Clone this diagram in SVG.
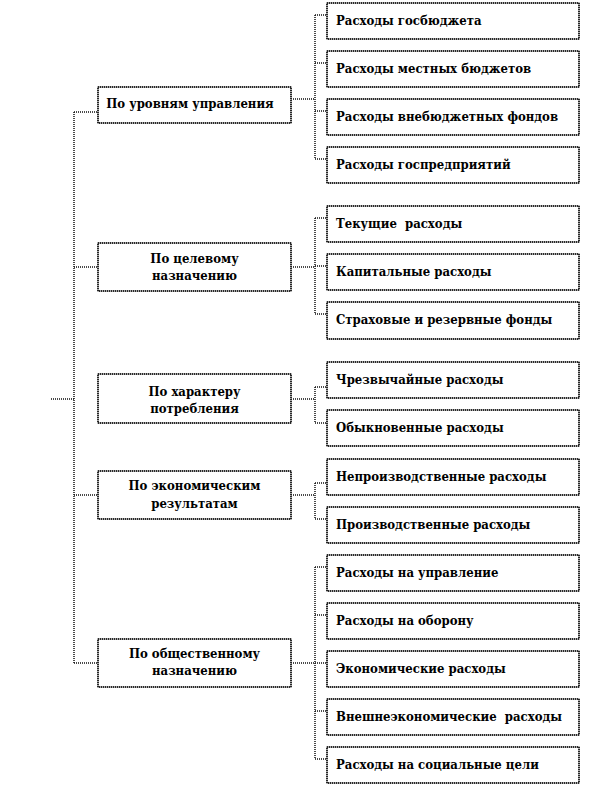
<svg xmlns="http://www.w3.org/2000/svg" width="594" height="786" viewBox="0 0 594 786">
<style>
.bg{fill:#fff;stroke:#8a8a8a;stroke-width:1.5}
.bd{fill:none;stroke:#000;stroke-width:1.5;stroke-dasharray:1 1}
.ln{fill:none;stroke:#111;stroke-width:1.5;stroke-dasharray:1 1}
.t{font-family:'DejaVu Serif Condensed','DejaVu Serif',serif;font-stretch:condensed;font-weight:700;font-size:13px;fill:#000}
.c{text-anchor:middle}
</style>
<rect width="594" height="786" fill="#fff"/>
<g id="connectors">
<path class="ln" d="M74,112V663M51,399H74M74,112H98M74,267H98M74,495H98M74,663H98"/>
<path class="ln" d="M291,99H315M315,15V159M315,15H327M315,63H327M315,111H327M315,159H327"/>
<path class="ln" d="M291,267H315M315,218V314M315,218H327M315,266H327M315,314H327"/>
<path class="ln" d="M291,399H315M315,387V423M315,387H327M315,423H327"/>
<path class="ln" d="M291,495H315M315,483V519M315,483H327M315,519H327"/>
<path class="ln" d="M291,663H315M315,567V759M315,567H327M315,615H327M315,663H327M315,711H327M315,759H327"/>
</g>
<g class="t">
<g id="c1"><rect class="bg" x="98" y="87" width="193" height="36"/><rect class="bd" x="98" y="87" width="193" height="36"/><text class="c" x="190" y="108">По уровням управления</text></g>
<g id="c2"><rect class="bg" x="98" y="243" width="193" height="48"/><rect class="bd" x="98" y="243" width="193" height="48"/><text class="c" x="194.5" y="263">По целевому</text><text class="c" x="194.5" y="280">назначению</text></g>
<g id="c3"><rect class="bg" x="98" y="374" width="193" height="49"/><rect class="bd" x="98" y="374" width="193" height="49"/><text class="c" x="194.5" y="396">По характеру</text><text class="c" x="194.5" y="413">потребления</text></g>
<g id="c4"><rect class="bg" x="98" y="471" width="193" height="48"/><rect class="bd" x="98" y="471" width="193" height="48"/><text class="c" x="194.5" y="490">По экономическим</text><text class="c" x="194.5" y="508">результатам</text></g>
<g id="c5"><rect class="bg" x="98" y="639" width="193" height="48"/><rect class="bd" x="98" y="639" width="193" height="48"/><text class="c" x="194.5" y="658">По общественному</text><text class="c" x="194.5" y="675">назначению</text></g>
<g id="r1"><rect class="bg" x="327" y="3" width="252" height="36"/><rect class="bd" x="327" y="3" width="252" height="36"/><text x="336" y="25">Расходы госбюджета</text></g>
<g id="r2"><rect class="bg" x="327" y="51" width="252" height="36"/><rect class="bd" x="327" y="51" width="252" height="36"/><text x="336" y="73">Расходы местных бюджетов</text></g>
<g id="r3"><rect class="bg" x="327" y="99" width="252" height="36"/><rect class="bd" x="327" y="99" width="252" height="36"/><text x="336" y="121">Расходы внебюджетных фондов</text></g>
<g id="r4"><rect class="bg" x="327" y="147" width="252" height="36"/><rect class="bd" x="327" y="147" width="252" height="36"/><text x="336" y="169">Расходы госпредприятий</text></g>
<g id="r5"><rect class="bg" x="327" y="206" width="252" height="36"/><rect class="bd" x="327" y="206" width="252" height="36"/><text x="336" y="228" xml:space="preserve">Текущие  расходы</text></g>
<g id="r6"><rect class="bg" x="327" y="254" width="252" height="36"/><rect class="bd" x="327" y="254" width="252" height="36"/><text x="336" y="276">Капитальные расходы</text></g>
<g id="r7"><rect class="bg" x="327" y="302" width="252" height="37"/><rect class="bd" x="327" y="302" width="252" height="37"/><text x="336" y="324">Страховые и резервные фонды</text></g>
<g id="r8"><rect class="bg" x="327" y="362" width="252" height="36"/><rect class="bd" x="327" y="362" width="252" height="36"/><text x="336" y="384">Чрезвычайные расходы</text></g>
<g id="r9"><rect class="bg" x="327" y="410" width="252" height="36"/><rect class="bd" x="327" y="410" width="252" height="36"/><text x="336" y="432">Обыкновенные расходы</text></g>
<g id="r10"><rect class="bg" x="327" y="459" width="252" height="36"/><rect class="bd" x="327" y="459" width="252" height="36"/><text x="336" y="481">Непроизводственные расходы</text></g>
<g id="r11"><rect class="bg" x="327" y="507" width="252" height="36"/><rect class="bd" x="327" y="507" width="252" height="36"/><text x="336" y="529">Производственные расходы</text></g>
<g id="r12"><rect class="bg" x="327" y="555" width="252" height="36"/><rect class="bd" x="327" y="555" width="252" height="36"/><text x="336" y="577">Расходы на управление</text></g>
<g id="r13"><rect class="bg" x="327" y="603" width="252" height="36"/><rect class="bd" x="327" y="603" width="252" height="36"/><text x="336" y="625">Расходы на оборону</text></g>
<g id="r14"><rect class="bg" x="327" y="651" width="252" height="36"/><rect class="bd" x="327" y="651" width="252" height="36"/><text x="336" y="673">Экономические расходы</text></g>
<g id="r15"><rect class="bg" x="327" y="699" width="252" height="36"/><rect class="bd" x="327" y="699" width="252" height="36"/><text x="336" y="721" xml:space="preserve">Внешнеэкономические  расходы</text></g>
<g id="r16"><rect class="bg" x="327" y="747" width="252" height="36"/><rect class="bd" x="327" y="747" width="252" height="36"/><text x="336" y="769">Расходы на социальные цели</text></g>
</g>
</svg>
